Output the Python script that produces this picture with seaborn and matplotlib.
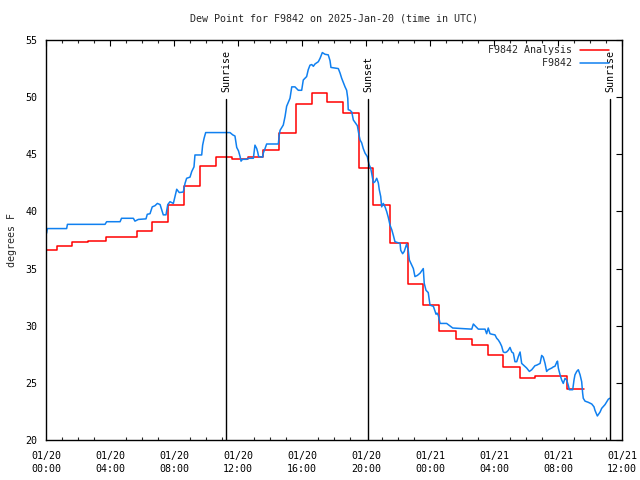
import numpy as np
import pandas as pd
import matplotlib
matplotlib.use("Agg")
import matplotlib.pyplot as plt
import matplotlib.dates as mdates
import seaborn as sns

# ---- data (hours after 2025-01-20 00:00 UTC) ----
analysis_hours = [0.0, 0.67, 1.62, 2.64, 3.73, 5.67, 6.61, 7.61, 8.62, 9.62, 10.61,
                  11.61, 12.64, 13.58, 14.58, 15.61, 16.64, 17.54, 18.58, 19.58,
                  20.46, 21.5, 22.6, 23.58, 24.58, 25.6, 26.6, 27.6, 28.58, 29.63,
                  30.56, 31.56, 32.54, 33.64]
analysis_vals = [36.6, 37.0, 37.3, 37.4, 37.8, 38.3, 39.1, 40.6, 42.2, 44.0, 44.8,
                 44.55, 44.8, 45.4, 46.9, 49.4, 50.4, 49.6, 48.6, 43.8,
                 40.6, 37.2, 33.65, 31.8, 29.5, 28.8, 28.3, 27.4, 26.4, 25.4,
                 25.6, 25.6, 24.5, 24.5]

obs_hours = [0.04, 0.08, 1.29, 1.34, 3.69, 3.79, 4.63, 4.72, 5.46, 5.56, 5.77, 6.25,
             6.33, 6.5, 6.64, 6.81, 6.96, 7.13, 7.33, 7.5, 7.61, 7.75, 7.96, 8.06,
             8.17, 8.33, 8.58, 8.69, 8.79, 9.0, 9.11, 9.25, 9.31, 9.73, 9.79, 9.88,
             9.98, 11.5, 11.67, 11.81, 11.92, 12.03, 12.13, 12.19, 12.28, 12.54,
             12.64, 12.96, 13.06, 13.17, 13.23, 13.29, 13.54, 13.58, 13.69, 13.79,
             14.52, 14.58, 14.63, 14.83, 14.94, 15.04, 15.25, 15.36, 15.56, 15.77,
             15.98, 16.08, 16.29, 16.39, 16.5, 16.61, 16.71, 16.81, 17.02, 17.13,
             17.27, 17.44, 17.64, 17.75, 17.81, 18.27, 18.38, 18.48, 18.58, 18.69,
             18.79, 18.86, 18.89, 19.0, 19.11, 19.21, 19.31, 19.46, 19.56, 19.63,
             19.73, 19.83, 19.94, 20.08, 20.19, 20.29, 20.36, 20.46, 20.56, 20.67,
             20.77, 20.83, 20.92, 20.98, 21.08, 21.19, 21.29, 21.39, 21.5, 21.61,
             21.71, 21.81, 22.13, 22.17, 22.29, 22.39, 22.54, 22.64, 22.71, 22.86,
             22.96, 23.06, 23.21, 23.38, 23.48, 23.58, 23.64, 23.75, 23.89, 24.0,
             24.21, 24.38, 24.44, 24.52, 24.63, 25.04, 25.42, 26.61, 26.71, 26.81,
             27.02, 27.44, 27.54, 27.64, 27.75, 27.88, 28.06, 28.17, 28.27, 28.38,
             28.48, 28.58, 28.69, 28.79, 28.89, 29.0, 29.11, 29.21, 29.31, 29.42,
             29.52, 29.63, 29.73, 29.88, 30.04, 30.21, 30.36, 30.56, 30.67, 30.88,
             30.98, 31.08, 31.19, 31.29, 31.39, 31.61, 31.71, 31.81, 31.92, 31.97,
             32.02, 32.13, 32.23, 32.33, 32.44, 32.54, 32.64, 32.71, 32.92, 33.0,
             33.06, 33.17, 33.27, 33.38, 33.48, 33.54, 33.58, 33.69, 33.89, 34.11,
             34.25, 34.31, 34.46, 34.63, 34.73, 34.94, 35.14, 35.23]
obs_vals = [38.1, 38.5, 38.5, 38.87, 38.87, 39.1, 39.1, 39.4, 39.4, 39.15, 39.3, 39.35,
            39.75, 39.8, 40.4, 40.5, 40.7, 40.6, 39.7, 39.7, 40.6, 40.85, 40.7, 41.3,
            41.94, 41.65, 41.7, 42.46, 42.9, 43.0, 43.5, 43.9, 44.94, 44.94, 45.8, 46.4,
            46.9, 46.9, 46.7, 46.6, 45.6, 45.3, 44.8, 44.4, 44.56, 44.56,
            44.65, 44.65, 45.8, 45.5, 45.2, 44.8, 44.75, 45.1, 45.5, 45.9,
            45.9, 46.7, 47.1, 47.56, 48.3, 49.2, 49.9, 50.9, 50.9, 50.6,
            50.6, 51.5, 51.8, 52.4, 52.8, 52.85, 52.7, 52.9, 53.1, 53.4,
            53.9, 53.75, 53.7, 53.2, 52.6, 52.5, 52.1, 51.65, 51.3, 50.9,
            50.6, 49.9, 48.9, 48.85, 48.7, 48.0, 47.8, 47.5, 46.7, 46.25,
            46.0, 45.5, 45.1, 44.8, 44.1, 43.8, 43.3, 42.5, 42.6, 42.9,
            42.5, 41.9, 41.3, 40.4, 40.7, 40.4, 40.0, 39.5, 38.8, 38.4,
            37.9, 37.35, 37.2, 36.6, 36.3, 36.5, 37.15, 36.6, 35.75, 35.3,
            35.0, 34.3, 34.4, 34.6, 34.8, 35.0, 33.7, 33.1, 32.9, 31.8,
            31.7, 31.0, 31.1, 30.9, 30.2, 30.2, 29.8, 29.7, 30.15, 30.0,
            29.7, 29.7, 29.3, 29.8, 29.3, 29.25, 29.2, 28.9, 28.75, 28.5,
            28.2, 27.7, 27.65, 27.7, 27.85, 28.1, 27.7, 27.6, 26.85, 26.85,
            27.3, 27.7, 26.7, 26.5, 26.3, 26.0, 26.15, 26.5, 26.55, 26.7,
            27.4, 27.25, 26.7, 26.0, 26.15, 26.3, 26.4, 26.45, 26.8, 26.9,
            26.3, 25.7, 25.25, 24.95, 25.4, 25.25, 24.8, 24.4, 24.4, 25.25,
            25.7, 26.0, 26.15, 25.7, 25.1, 24.1, 23.65, 23.4, 23.3, 23.15,
            22.9, 22.6, 22.1, 22.45, 22.77, 23.1, 23.56, 23.65]

event_hours = [11.25, 20.125, 35.25]
event_labels = ["Sunrise", "Sunset", "Sunrise"]

title = "Dew Point for F9842 on 2025-Jan-20 (time in UTC)"
ylabel = "degrees F"
analysis_name = "F9842 Analysis"
obs_name = "F9842"
y_ticks = [20, 25, 30, 35, 40, 45, 50, 55]

base = pd.Timestamp("2025-01-20 00:00")
df_a = pd.DataFrame({"time": base + pd.to_timedelta(analysis_hours, unit="h"),
                     "value": analysis_vals})
df_o = pd.DataFrame({"time": base + pd.to_timedelta(obs_hours, unit="h"),
                     "value": obs_vals})

sns.set_style("white")
plt.rcParams["font.family"] = ["DejaVu Sans Mono"]
plt.rcParams["font.size"] = 7.2

fig = plt.figure(figsize=(6.4, 4.8), dpi=100)
ax = fig.add_axes([46 / 640, 40 / 480, 576 / 640, 400 / 480])

red = "#ff0000"
blue = "#1080f0"

sns.lineplot(data=df_a, x="time", y="value", ax=ax, color=red, lw=1.1,
             drawstyle="steps-post", estimator=None, sort=False, label=analysis_name)
pad = " " * (len(analysis_name) - len(obs_name))
sns.lineplot(data=df_o, x="time", y="value", ax=ax, color=blue, lw=1.1,
             estimator=None, sort=False, label=pad + obs_name)

for h, lab in zip(event_hours, event_labels):
    t = base + pd.Timedelta(hours=h)
    ax.axvline(t, ymin=0, ymax=0.852, color="black", lw=1.0)
    ax.text(t, 0.87, lab, transform=ax.get_xaxis_transform(), rotation=90,
            ha="center", va="bottom", fontsize=7.2, color="black")

ax.set_xlim(base, base + pd.Timedelta(hours=36))
ax.set_ylim(20, 55)
ax.set_yticks(y_ticks)
ax.xaxis.set_major_locator(mdates.HourLocator(byhour=range(0, 24, 4)))
ax.xaxis.set_minor_locator(mdates.HourLocator())
ax.xaxis.set_major_formatter(mdates.DateFormatter("%m/%d\n%H:%M"))

for s in ax.spines.values():
    s.set_visible(True)
    s.set_color("black")
    s.set_linewidth(1.0)

ax.tick_params(axis="both", which="major", direction="in", length=4.5, width=0.8,
               top=True, right=True, colors="black", labelsize=7.2)
ax.tick_params(axis="x", which="minor", direction="in", length=2.5, width=0.8,
               top=True, bottom=True)
ax.tick_params(axis="x", which="major", pad=8)
ax.tick_params(axis="y", which="major", pad=6)
for lbl in ax.get_xticklabels():
    lbl.set_linespacing(1.35)

ax.set_xlabel("")
ax.set_ylabel(ylabel, fontsize=7.2)
ax.yaxis.set_label_coords(-0.05, 0.5)
ax.set_title(title, fontsize=7.2, pad=13)

leg = ax.legend(loc="upper right", bbox_to_anchor=(1 - 8 / 576, 1.0),
                markerfirst=False, frameon=False,
                handlelength=2.9, handletextpad=0.7, borderaxespad=0.2,
                borderpad=0.35, labelspacing=0.3, fontsize=7.2)

ax.grid(False)
fig.savefig("out.png", dpi=100)
